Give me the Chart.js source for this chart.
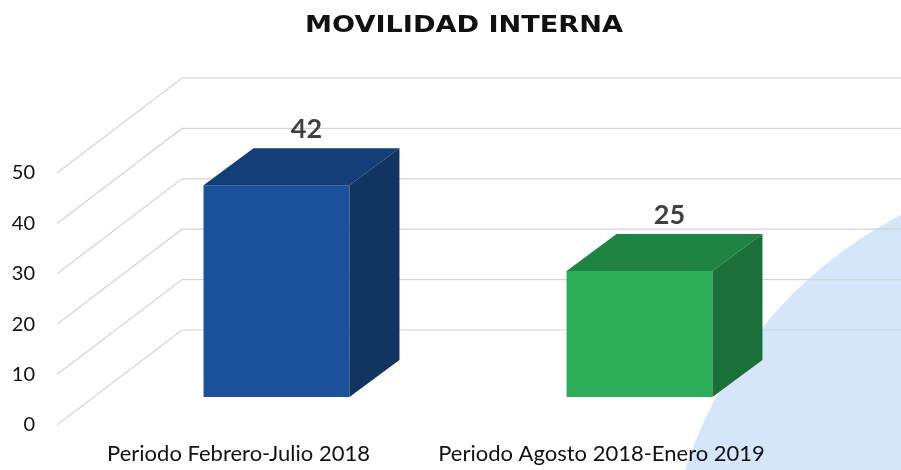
<!DOCTYPE html>
<html>
<head>
<meta charset="utf-8">
<script src="https://cdn.jsdelivr.net/npm/chart.js@4"></script>
<style>
  html, body { margin: 0; padding: 0; background: #fff; }
</style>
</head>
<body>
<canvas id="myChart" width="901" height="470"></canvas>
<script>
'use strict';

let titulo = 'MOVILIDAD INTERNA';
let categorias = ['Periodo Febrero-Julio 2018', 'Periodo Agosto 2018-Enero 2019'];
let valores = [42, 25];
let frentes = ['#1b519b', '#2bad5a'];
let techos = ['#143e77', '#1f8443'];
let lados = ['#113461', '#1b6f38'];

// desplazamiento de la pared de fondo y de la cara frontal de las barras
let fondoX = 125, fondoY = 95;
let barraX = 38, barraY = 28;
let hondoX = 50, hondoY = 37;

let cubos = {
    id: 'cubos',
    beforeDraw(chart) {
        let c = chart.ctx;
        c.save();
        c.fillStyle = '#fff';
        c.fillRect(0, 0, chart.width, chart.height);
        // mancha azul del fondo
        c.fillStyle = '#d6e6fa';
        c.beginPath();
        c.arc(1102, 604, 438, 0, Math.PI * 2);
        c.fill();

        // titulo, ensanchado como en el original
        c.fillStyle = '#111';
        c.font = 'bold 23px "DejaVu Sans"';
        c.textAlign = 'left';
        c.textBaseline = 'alphabetic';
        let w = c.measureText(titulo).width;
        c.translate(305, 32);
        c.scale(318 / w, 1);
        c.fillText(titulo, 0, 0);
        c.restore();
    },
    beforeDatasetsDraw(chart) {
        let c = chart.ctx;
        let y = chart.scales.y;
        let left = chart.chartArea.left;
        c.save();
        c.strokeStyle = '#d4d4d4';
        c.lineWidth = 1.2;
        y.ticks.forEach(t => {
            let py = y.getPixelForValue(t.value);
            c.beginPath();
            c.moveTo(left, py);
            c.lineTo(left + fondoX, py - fondoY);
            c.lineTo(chart.width, py - fondoY);
            c.stroke();
        });
        c.restore();
        c.save();
        c.translate(barraX, -barraY);
    },
    afterDatasetsDraw(chart) {
        let c = chart.ctx;
        let meta = chart.getDatasetMeta(0);
        meta.data.forEach((bar, i) => {
            let p = bar.getProps(['x', 'y', 'base', 'width'], true);
            let l = p.x - p.width / 2, r = p.x + p.width / 2;
            c.fillStyle = techos[i];
            c.beginPath();
            c.moveTo(l, p.y);
            c.lineTo(l + hondoX, p.y - hondoY);
            c.lineTo(r + hondoX, p.y - hondoY);
            c.lineTo(r, p.y);
            c.closePath();
            c.fill();
            c.fillStyle = lados[i];
            c.beginPath();
            c.moveTo(r, p.y);
            c.lineTo(r + hondoX, p.y - hondoY);
            c.lineTo(r + hondoX, p.base - hondoY);
            c.lineTo(r, p.base);
            c.closePath();
            c.fill();

            c.fillStyle = '#404040';
            c.font = 'bold 27px Lato';
            c.textAlign = 'center';
            c.textBaseline = 'middle';
            c.fillText(valores[i], p.x + 30, p.y - hondoY - 19);
        });
        c.restore();
    }
};

let ctx = document.getElementById('myChart').getContext('2d');
let myChart = new Chart(ctx, {
    type: 'bar',
    data: {
        labels: categorias,
        datasets: [{
            data: valores,
            backgroundColor: frentes,
            borderWidth: 0,
            categoryPercentage: 1,
            barPercentage: 0.402,
            clip: false
        }]
    },
    options: {
        responsive: false,
        animation: false,
        layout: { padding: { left: 0, right: 0, top: 173, bottom: 0 } },
        plugins: {
            legend: { display: false },
            tooltip: { enabled: false },
            title: { display: false }
        },
        scales: {
            x: {
                grid: { display: false, drawTicks: false },
                border: { display: false },
                ticks: { color: '#111', font: { family: 'Lato', size: 22 }, padding: 16 },
                afterFit(s) { s.height = 45; }
            },
            y: {
                min: 0,
                max: 50,
                grid: { display: false, drawTicks: false },
                border: { display: false },
                ticks: { stepSize: 10, color: '#111', font: { family: 'Lato', size: 20 }, padding: 22 },
                afterFit(s) { s.width = 57; }
            },
            y2: {
                position: 'right',
                grid: { display: false, drawTicks: false },
                border: { display: false },
                ticks: { display: false },
                afterFit(s) { s.width = 118; }
            }
        }
    },
    plugins: [cubos]
});
</script>
</body>
</html>
